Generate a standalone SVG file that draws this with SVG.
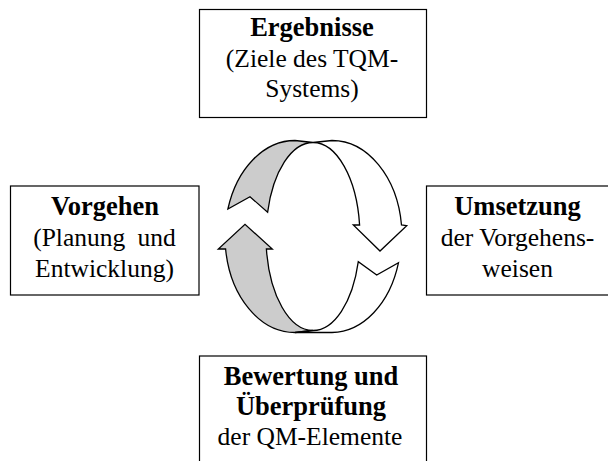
<svg xmlns="http://www.w3.org/2000/svg" width="608" height="461" viewBox="0 0 608 461">
  <style>
    .box { fill: #ffffff; stroke: #000000; stroke-width: 1.2; }
    .label { font-family: "Liberation Serif", "Times New Roman", serif; font-size: 25.5px; fill: #000000; text-anchor: middle; }
    .bold { font-weight: bold; font-size: 26.5px; }
    .band { stroke: #000000; stroke-width: 1.3; stroke-linejoin: miter; }
    .inner { fill: #cccccc; }
    .outer { fill: #ffffff; }
  </style>
  <rect width="608" height="461" fill="#ffffff"/>

  <!-- Ergebnisse -->
  <g id="ergebnisse">
    <rect class="box" x="199.5" y="9.5" width="227" height="108"/>
    <text class="label bold" x="312" y="36">Ergebnisse</text>
    <text class="label" x="312" y="66.5">(Ziele des TQM-</text>
    <text class="label" x="312" y="97">Systems)</text>
  </g>

  <!-- Vorgehen -->
  <g id="vorgehen">
    <rect class="box" x="10.5" y="186" width="188.5" height="109"/>
    <text class="label bold" x="105" y="215">Vorgehen</text>
    <text class="label" x="104.5" y="246" word-spacing="6">(Planung und</text>
    <text class="label" x="104.5" y="277">Entwicklung)</text>
  </g>

  <!-- Umsetzung -->
  <g id="umsetzung">
    <rect class="box" x="426.5" y="186" width="200" height="109"/>
    <text class="label bold" x="517.5" y="215">Umsetzung</text>
    <text class="label" x="517.5" y="246">der Vorgehens-</text>
    <text class="label" x="517.5" y="277">weisen</text>
  </g>

  <!-- Bewertung und Überprüfung -->
  <g id="bewertung">
    <rect class="box" x="199.5" y="356" width="227" height="120"/>
    <text class="label bold" x="311" y="385">Bewertung und</text>
    <text class="label bold" x="311" y="414.5">Überprüfung</text>
    <text class="label" x="310" y="445">der QM-Elemente</text>
  </g>

  <!-- cycle: two curved ribbon arrows -->
  <g id="connectors">
    <!-- upper arrow: inner (grey) face -->
    <path class="band inner" d="M295,140.5 A70,96 0 0 0 227.9,209 L250,196.7 L267.6,212.3 A47,94 0 0 1 313,142.5 Z"/>
    <!-- upper arrow: outer face with head pointing down -->
    <path class="band outer" d="M313,142.5 L332,140.5 A70,96 0 0 1 401.5,225 L406.7,225.7 L380,251 L353.3,225 L359.6,225 A47,94 0 0 0 313,142.5 Z"/>
    <!-- lower arrow: inner (grey) face with head pointing up -->
    <path class="band inner" d="M225.6,249 L218.3,249 L245,224.3 L272.3,249 L266.4,249 A47,94 0 0 0 313,330.5 L295,332.5 A70,96 0 0 1 225.6,249 Z"/>
    <!-- lower arrow: outer face with notched tail -->
    <path class="band outer" d="M313,330.5 A47,94 0 0 0 358.3,261.7 L376.7,275 L398.5,262.7 A70,96 0 0 1 332,332.5 L295,332.5 Z"/>
  </g>
</svg>
